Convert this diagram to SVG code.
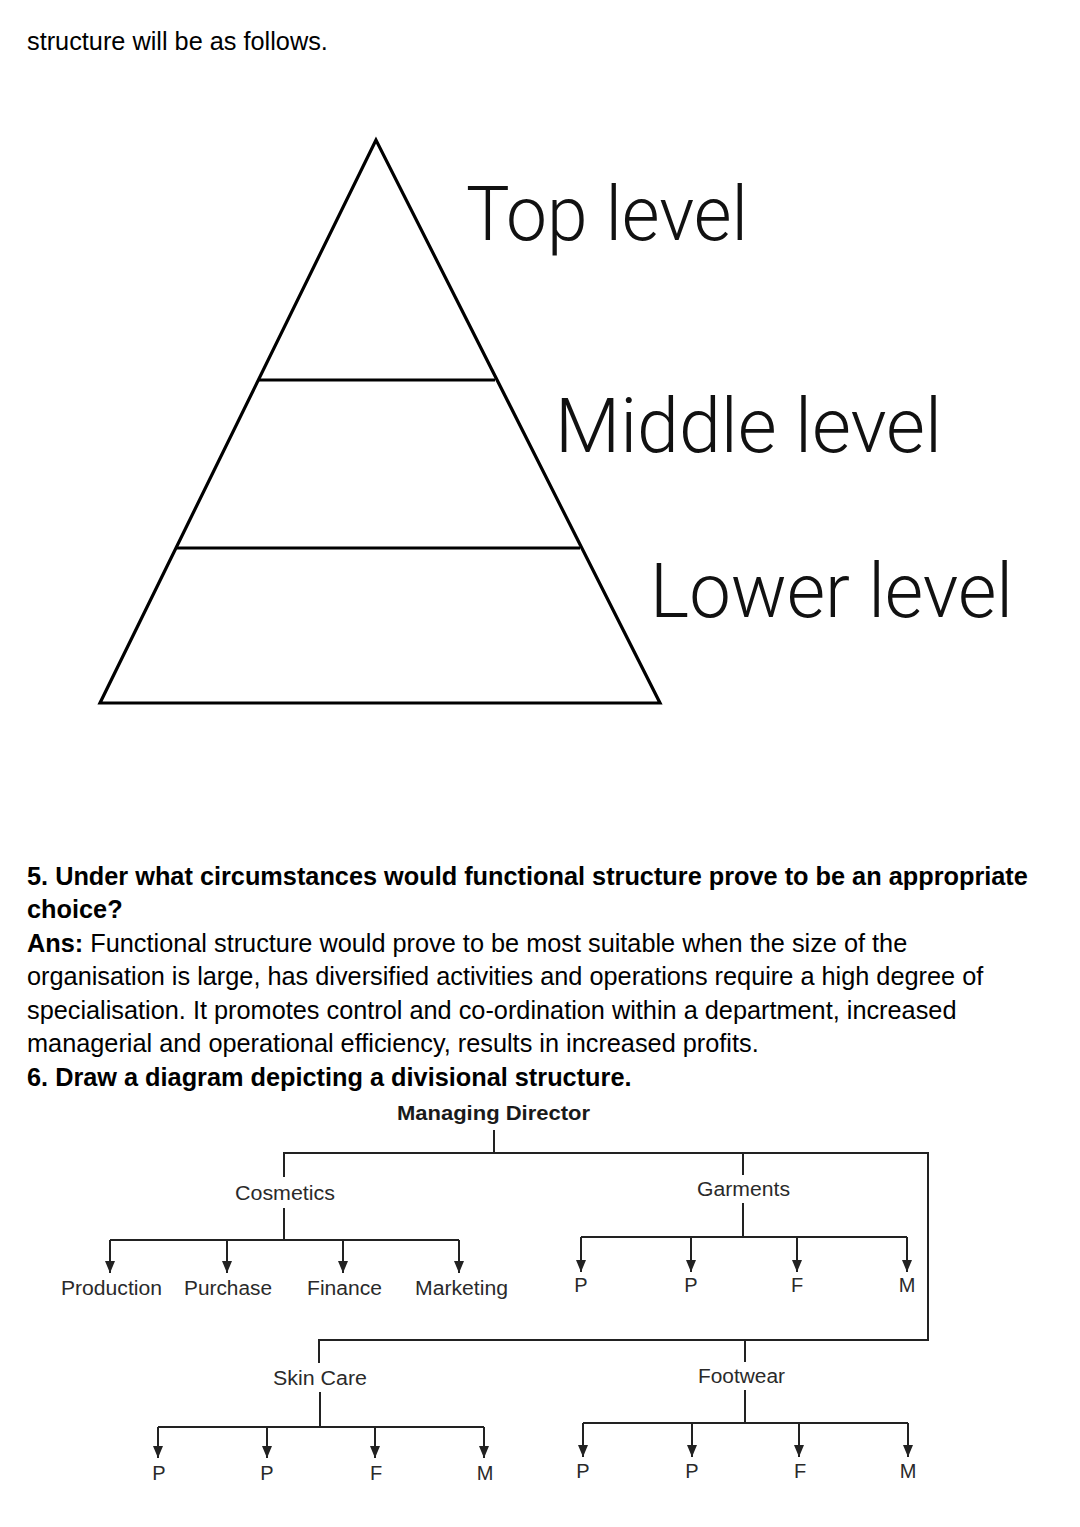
<svg xmlns="http://www.w3.org/2000/svg" width="1080" height="1527" viewBox="0 0 1080 1527">
<style>
.body{font-family:"Liberation Sans",Arial,sans-serif;font-size:25.3px;fill:#000}
.b{font-weight:bold}
.lvl{font-family:Roboto,"Liberation Sans",Arial,sans-serif;font-weight:300;font-size:76px;fill:#111}
.lbl{font-family:"Liberation Sans",Arial,sans-serif;font-size:20px;fill:#2a2a2a}
.md{font-family:"Liberation Sans",Arial,sans-serif;font-size:20px;font-weight:bold;fill:#1a1a1a}
.pyr{fill:none;stroke:#000;stroke-width:3.2;stroke-linejoin:miter}
.ln{fill:none;stroke:#222;stroke-width:2}
.ar{fill:none;stroke:#222;stroke-width:2;marker-end:url(#ah)}
</style>
<defs>
<marker id="ah" viewBox="0 0 12 10" markerWidth="12" markerHeight="10" refX="12" refY="5" orient="auto" markerUnits="userSpaceOnUse">
<path d="M0,0 L12,5 L0,10 z" fill="#222"/>
</marker>
</defs>
<rect width="1080" height="1527" fill="#fff"/>
<text class="body" x="27" y="50">structure will be as follows.</text>

<g id="pyramid">
<polygon class="pyr" points="376,140 100,703 660,703"/>
<line class="pyr" x1="259" y1="380" x2="495" y2="380"/>
<line class="pyr" x1="177" y1="548" x2="580" y2="548"/>
<text class="lvl" x="466" y="240" textLength="282" lengthAdjust="spacingAndGlyphs">Top level</text>
<text class="lvl" x="555" y="452" textLength="387" lengthAdjust="spacingAndGlyphs">Middle level</text>
<text class="lvl" x="650" y="617" textLength="363" lengthAdjust="spacingAndGlyphs">Lower level</text>
</g>

<g id="qa">
<text class="body b" x="27" y="885">5. Under what circumstances would functional structure prove to be an appropriate</text>
<text class="body b" x="27" y="918">choice?</text>
<text class="body" x="27" y="952"><tspan class="b">Ans:</tspan> Functional structure would prove to be most suitable when the size of the</text>
<text class="body" x="27" y="985">organisation is large, has diversified activities and operations require a high degree of</text>
<text class="body" x="27" y="1019">specialisation. It promotes control and co-ordination within a department, increased</text>
<text class="body" x="27" y="1052">managerial and operational efficiency, results in increased profits.</text>
<text class="body b" x="27" y="1086">6. Draw a diagram depicting a divisional structure.</text>
</g>

<g id="connectors">
<line class="ln" x1="494" y1="1130" x2="494" y2="1153"/>
<polyline class="ln" points="284,1177 284,1153 928,1153 928,1340 319,1340 319,1363"/>
<line class="ln" x1="743" y1="1153" x2="743" y2="1175"/>
<line class="ln" x1="745" y1="1340" x2="745" y2="1362"/>
<line class="ln" x1="284" y1="1208" x2="284" y2="1240"/>
<line class="ln" x1="110" y1="1240" x2="459" y2="1240"/>
<line class="ar" x1="110" y1="1240" x2="110" y2="1273"/>
<line class="ar" x1="227" y1="1240" x2="227" y2="1273"/>
<line class="ar" x1="343" y1="1240" x2="343" y2="1273"/>
<line class="ar" x1="459" y1="1240" x2="459" y2="1273"/>
<line class="ln" x1="743" y1="1203" x2="743" y2="1237"/>
<line class="ln" x1="581" y1="1237" x2="907" y2="1237"/>
<line class="ar" x1="581" y1="1237" x2="581" y2="1272"/>
<line class="ar" x1="691" y1="1237" x2="691" y2="1272"/>
<line class="ar" x1="797" y1="1237" x2="797" y2="1272"/>
<line class="ar" x1="907" y1="1237" x2="907" y2="1272"/>
<line class="ln" x1="320" y1="1392" x2="320" y2="1427"/>
<line class="ln" x1="158" y1="1427" x2="484" y2="1427"/>
<line class="ar" x1="158" y1="1427" x2="158" y2="1458"/>
<line class="ar" x1="267" y1="1427" x2="267" y2="1458"/>
<line class="ar" x1="375" y1="1427" x2="375" y2="1458"/>
<line class="ar" x1="484" y1="1427" x2="484" y2="1458"/>
<line class="ln" x1="745" y1="1390" x2="745" y2="1423"/>
<line class="ln" x1="583" y1="1423" x2="908" y2="1423"/>
<line class="ar" x1="583" y1="1423" x2="583" y2="1457"/>
<line class="ar" x1="692" y1="1423" x2="692" y2="1457"/>
<line class="ar" x1="799" y1="1423" x2="799" y2="1457"/>
<line class="ar" x1="908" y1="1423" x2="908" y2="1457"/>
</g>

<g id="n-md"><text class="md" x="397" y="1120" textLength="193" lengthAdjust="spacingAndGlyphs">Managing Director</text></g>
<g id="n-cosmetics"><text class="lbl" x="235" y="1200" textLength="100" lengthAdjust="spacingAndGlyphs">Cosmetics</text></g>
<g id="n-garments"><text class="lbl" x="697" y="1196" textLength="93" lengthAdjust="spacingAndGlyphs">Garments</text></g>
<g id="n-skincare"><text class="lbl" x="273" y="1385" textLength="94" lengthAdjust="spacingAndGlyphs">Skin Care</text></g>
<g id="n-footwear"><text class="lbl" x="698" y="1383" textLength="87" lengthAdjust="spacingAndGlyphs">Footwear</text></g>

<g id="n-c-production"><text class="lbl" x="61" y="1295" textLength="101" lengthAdjust="spacingAndGlyphs">Production</text></g>
<g id="n-c-purchase"><text class="lbl" x="184" y="1295" textLength="88" lengthAdjust="spacingAndGlyphs">Purchase</text></g>
<g id="n-c-finance"><text class="lbl" x="307" y="1295" textLength="75" lengthAdjust="spacingAndGlyphs">Finance</text></g>
<g id="n-c-marketing"><text class="lbl" x="415" y="1295" textLength="93" lengthAdjust="spacingAndGlyphs">Marketing</text></g>

<g id="n-g-p1"><text class="lbl" x="581" y="1292" text-anchor="middle">P</text></g>
<g id="n-g-p2"><text class="lbl" x="691" y="1292" text-anchor="middle">P</text></g>
<g id="n-g-f"><text class="lbl" x="797" y="1292" text-anchor="middle">F</text></g>
<g id="n-g-m"><text class="lbl" x="907" y="1292" text-anchor="middle">M</text></g>

<g id="n-s-p1"><text class="lbl" x="159" y="1480" text-anchor="middle">P</text></g>
<g id="n-s-p2"><text class="lbl" x="267" y="1480" text-anchor="middle">P</text></g>
<g id="n-s-f"><text class="lbl" x="376" y="1480" text-anchor="middle">F</text></g>
<g id="n-s-m"><text class="lbl" x="485" y="1480" text-anchor="middle">M</text></g>

<g id="n-f-p1"><text class="lbl" x="583" y="1478" text-anchor="middle">P</text></g>
<g id="n-f-p2"><text class="lbl" x="692" y="1478" text-anchor="middle">P</text></g>
<g id="n-f-f"><text class="lbl" x="800" y="1478" text-anchor="middle">F</text></g>
<g id="n-f-m"><text class="lbl" x="908" y="1478" text-anchor="middle">M</text></g>
</svg>
